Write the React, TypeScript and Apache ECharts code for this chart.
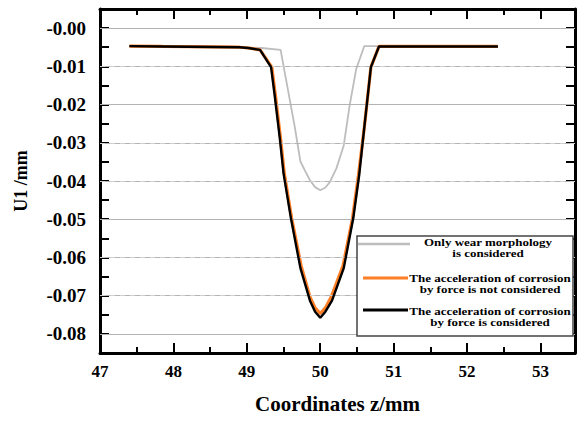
import React, { useEffect, useRef } from "react";
import * as echarts from "echarts";

// Coordinates z/mm, U1/mm
const wearOnly: [number, number][] = [
  [47.4, -0.0047], [47.85, -0.0048], [48.9, -0.005], [49.2, -0.0052], [49.46, -0.0057],
  [49.55, -0.0151], [49.65, -0.0255], [49.73, -0.0349], [49.79, -0.0372], [49.86, -0.0398],
  [49.93, -0.0416], [50.0, -0.0424], [50.07, -0.0417], [50.13, -0.0403], [50.22, -0.0367],
  [50.32, -0.0307], [50.4, -0.0203], [50.49, -0.0107], [50.6, -0.0047], [52.42, -0.0047],
];
const forceNotConsidered: [number, number][] = [
  [47.4, -0.0047], [47.85, -0.0048], [48.9, -0.005], [49.02, -0.0052], [49.18, -0.0057],
  [49.34, -0.0102], [49.39, -0.0177], [49.46, -0.029], [49.51, -0.038], [49.61, -0.0497],
  [49.74, -0.0622], [49.86, -0.0703], [49.93, -0.0732], [50.0, -0.0747], [50.07, -0.0732],
  [50.15, -0.0703], [50.31, -0.0622], [50.44, -0.0497], [50.52, -0.0385], [50.6, -0.026],
  [50.69, -0.0102], [50.8, -0.0048], [52.42, -0.0048],
];
const forceConsidered: [number, number][] = [
  [47.4, -0.0047], [47.85, -0.0048], [48.9, -0.005], [49.02, -0.0052], [49.18, -0.0057],
  [49.33, -0.0102], [49.38, -0.0177], [49.45, -0.029], [49.5, -0.038], [49.6, -0.0497],
  [49.73, -0.0628], [49.86, -0.0713], [49.93, -0.0742], [50.0, -0.0758], [50.07, -0.0742],
  [50.16, -0.0713], [50.32, -0.0628], [50.45, -0.0497], [50.53, -0.0385], [50.6, -0.026],
  [50.69, -0.0102], [50.8, -0.0048], [52.42, -0.0048],
];
const majorGrid = [0, -0.01, -0.02, -0.03, -0.04, -0.05, -0.06, -0.07, -0.08];
const minorGrid = [-0.005, -0.015, -0.025, -0.035, -0.045, -0.055, -0.065, -0.075];
const legendLabels = [
  "Only wear morphology\nis considered",
  "The acceleration of corrosion\nby force is not considered",
  "The acceleration of corrosion\nby force is considered",
];
const colors = ["#bdbdbd", "#ff7f27", "#000000"];

const FONT = "Liberation Serif";

export default function App() {
  const ref = useRef<HTMLDivElement>(null);
  useEffect(() => {
    document.body.style.margin = "0";
    const chart = echarts.init(ref.current!, null, { renderer: "svg" });
    const axisLine = { show: true, onZero: false, lineStyle: { color: "#000", width: 3 } };
    const xCommon = {
      type: "value" as const,
      min: 47,
      max: 53.47,
      interval: 1,
      axisLine,
      axisTick: { inside: true, length: 10, lineStyle: { color: "#000", width: 2 } },
      minorTick: { show: true, splitNumber: 2, length: 6, lineStyle: { color: "#000", width: 2 } },
      splitLine: { show: false },
    };
    const yCommon = {
      type: "value" as const,
      min: -0.085,
      max: 0.005,
      interval: 0.005,
      axisLine,
      axisTick: { inside: true, length: 9, lineStyle: { color: "#000", width: 2 } },
      splitLine: { show: false },
    };
    const legendItems: any[] = [];
    const rows = [
      { ly: 244, lx0: 358, lx1: 410, tx: 488, ty: 242 },
      { ly: 278, lx0: 363, lx1: 408, tx: 490, ty: 278 },
      { ly: 310, lx0: 363, lx1: 408, tx: 490, ty: 311 },
    ];
    rows.forEach((r, i) => {
      legendItems.push({
        type: "line",
        shape: { x1: r.lx0, y1: r.ly, x2: r.lx1, y2: r.ly },
        style: { stroke: colors[i], lineWidth: i === 0 ? 2.5 : 3 },
        z: 101,
      });
      legendLabels[i].split("\n").forEach((line, j) => {
        legendItems.push({
          type: "text",
          x: r.tx,
          y: r.ty + j * 11,
          scaleX: 1.18,
          style: {
            text: line,
            font: `bold 11px "${FONT}"`,
            fill: "#000",
            align: "center",
            verticalAlign: "middle",
          },
          z: 101,
        });
      });
    });
    chart.setOption({
      animation: false,
      backgroundColor: "#fff",
      grid: { left: 100, top: 9, width: 483, height: 344 },
      xAxis: [
        {
          ...xCommon,
          position: "bottom",
          name: "Coordinates z/mm",
          nameLocation: "middle",
          nameGap: 40,
          nameTextStyle: { fontFamily: FONT, fontWeight: "bold", fontSize: 21, color: "#000" },
          axisLabel: {
            fontFamily: FONT,
            fontWeight: "bold",
            fontSize: 17,
            color: "#000",
            margin: 10,
            formatter: (v: number) => (Math.abs(v - Math.round(v)) < 1e-6 ? String(Math.round(v)) : ""),
          },
        },
        { ...xCommon, position: "top", axisLabel: { show: false } },
      ],
      yAxis: [
        {
          ...yCommon,
          position: "left",
          name: "U1 /mm",
          nameLocation: "middle",
          nameGap: 70,
          nameTextStyle: { fontFamily: FONT, fontWeight: "bold", fontSize: 18, color: "#000" },
          axisLabel: {
            fontFamily: FONT,
            fontWeight: "bold",
            fontSize: 19,
            color: "#000",
            margin: 14,
            showMinLabel: false,
            showMaxLabel: false,
            formatter: (v: number) => {
              const k = Math.round(v * 1000);
              if (k > 0 || k % 10 !== 0) return "";
              return "-" + Math.abs(v).toFixed(2);
            },
          },
        },
        { ...yCommon, position: "right", axisLabel: { show: false } },
      ],
      series: [
        {
          type: "line",
          data: [],
          z: 1,
          silent: true,
          markLine: {
            silent: true,
            symbol: ["none", "none"],
            label: { show: false },
            data: [
              ...majorGrid.map((v) => ({
                yAxis: v,
                lineStyle: { color: "#b3b3b3", width: 1, type: "solid" },
              })),
              ...minorGrid.map((v) => ({
                yAxis: v,
                lineStyle: { color: "#cfcfcf", width: 1, type: [5, 5] },
              })),
            ],
          },
        },
        {
          type: "line",
          name: legendLabels[0],
          data: wearOnly,
          showSymbol: false,
          lineStyle: { color: colors[0], width: 1.8 },
          z: 3,
        },
        {
          type: "line",
          name: legendLabels[1],
          data: forceNotConsidered,
          showSymbol: false,
          lineStyle: { color: colors[1], width: 3.2 },
          z: 4,
        },
        {
          type: "line",
          name: legendLabels[2],
          data: forceConsidered,
          showSymbol: false,
          lineStyle: { color: colors[2], width: 2.4 },
          z: 5,
        },
      ],
      graphic: [
        {
          type: "rect",
          shape: { x: 357, y: 236, width: 216, height: 100 },
          style: { fill: "#fff", stroke: "#444", lineWidth: 1.5 },
          z: 100,
        },
        ...legendItems,
      ],
    });
    return () => chart.dispose();
  }, []);
  return <div ref={ref} style={{ width: 578, height: 422 }} />;
}
